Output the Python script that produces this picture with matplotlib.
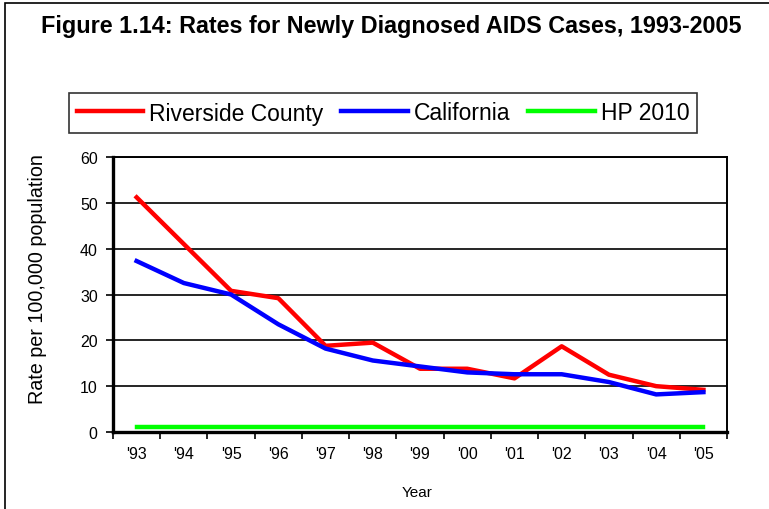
import matplotlib
matplotlib.use('Agg')
import matplotlib.pyplot as plt
from matplotlib.patches import Rectangle

plt.rcParams['font.family'] = ['Liberation Sans', 'DejaVu Sans']

# data
years = ["'93", "'94", "'95", "'96", "'97", "'98", "'99", "'00", "'01", "'02", "'03", "'04", "'05"]
riverside = [51.2, 41.0, 30.8, 29.2, 18.8, 19.5, 13.8, 13.8, 11.7, 18.7, 12.5, 10.0, 9.2]
california = [37.3, 32.5, 30.0, 23.5, 18.2, 15.6, 14.3, 13.0, 12.6, 12.6, 10.9, 8.2, 8.7]
hp2010 = [1.0] * len(years)

W, H = 769, 510
fig = plt.figure(figsize=(W / 100, H / 100), dpi=100)

# outer frame of the chart
fig.patches.append(Rectangle((5 / W, -0.05), 1.1, 1 - 4 / H + 0.05, transform=fig.transFigure,
                             fill=False, edgecolor='black', linewidth=1.2))

# plot area in pixels: left 113, right 727, top 158, bottom 433
ax = fig.add_axes([113 / W, 1 - 433 / H, (727 - 113) / W, (433 - 158) / H])

x = list(range(len(years)))
l1, = ax.plot(x, riverside, color='#ff0000', lw=3.2, label='Riverside County')
l2, = ax.plot(x, california, color='#0000ff', lw=3.2, label='California')
l3, = ax.plot(x, hp2010, color='#00ff00', lw=3.2, label='HP 2010')

ax.set_xlim(-0.5, len(years) - 0.5)
ax.set_ylim(0, 60)
ax.set_yticks(range(0, 61, 10))
# tick marks sit between categories, labels in the middle (Excel style)
ax.set_xticks([i - 0.5 for i in range(len(years) + 1)], minor=False)
ax.set_xticklabels([])
ax.set_xticks(x, minor=True)
ax.set_xticklabels(years, minor=True, fontsize=11.5)
ax.tick_params(axis='x', which='minor', length=0, pad=10)
ax.tick_params(axis='x', which='major', length=5, width=1.2, direction='out')
ax.tick_params(axis='y', length=5, width=1.2, direction='out', labelsize=11.5, pad=6)

ax.grid(axis='y', color='black', lw=1.2)
ax.set_axisbelow(True)
for s in ax.spines.values():
    s.set_linewidth(1.4)
ax.spines['left'].set_linewidth(2.4)
ax.spines['bottom'].set_linewidth(2.4)

fig.text(38 / W, 1 - 279 / H, 'Rate per 100,000 population', rotation=90,
         ha='center', va='center', fontsize=14.2)
fig.text(417 / W, 1 - 493 / H, 'Year', ha='center', va='center', fontsize=11)

fig.text(391 / W, 1 - 27 / H, 'Figure 1.14: Rates for Newly Diagnosed AIDS Cases, 1993-2005',
         ha='center', va='center', fontsize=16.8, fontweight='bold')

leg = fig.legend(handles=[l1, l2, l3], loc='center', bbox_to_anchor=(383 / W, 1 - 114 / H),
                 ncol=3, fontsize=16.5, frameon=True, fancybox=False, edgecolor='black',
                 handlelength=2.9, handletextpad=0.25, columnspacing=0.8, borderpad=0.35)
leg.get_frame().set_linewidth(1.2)

fig.savefig('out.png', dpi=100)
